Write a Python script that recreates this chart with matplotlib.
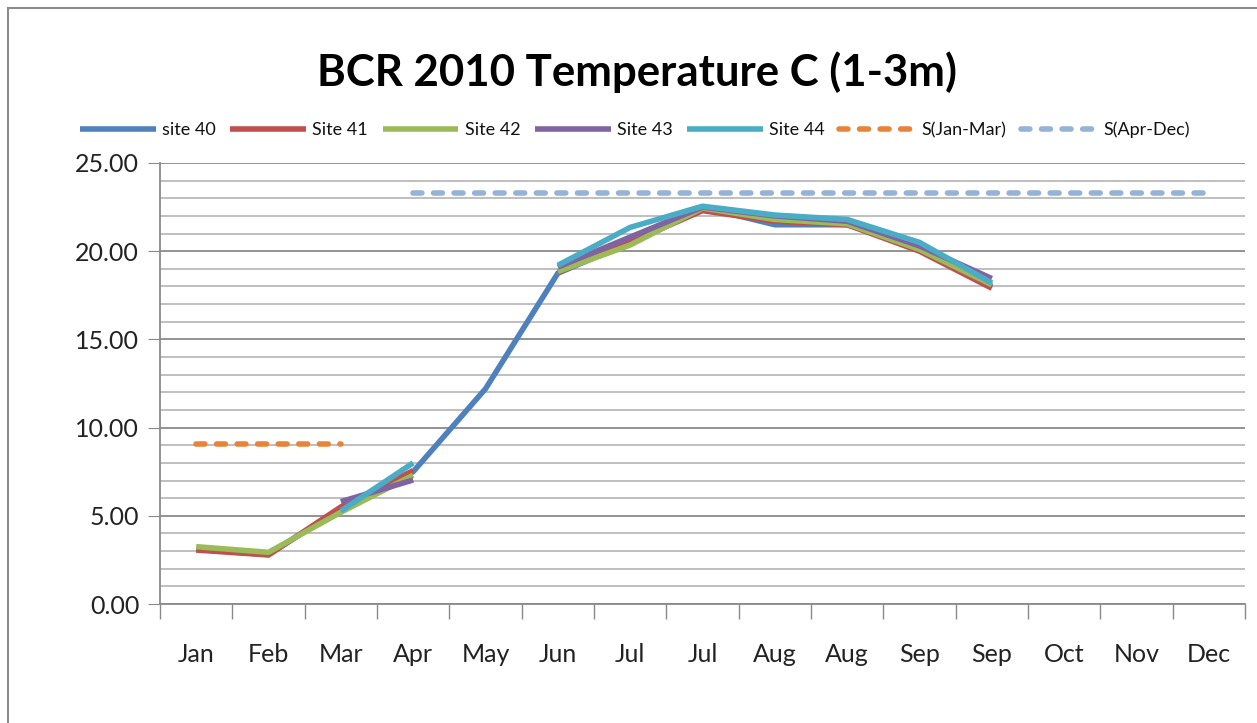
import matplotlib.pyplot as plt
import numpy as np
from matplotlib.patches import Rectangle

plt.rcParams["font.family"] = ["Lato", "DejaVu Sans"]

months = ["Jan", "Feb", "Mar", "Apr", "May", "Jun", "Jul", "Jul",
          "Aug", "Aug", "Sep", "Sep", "Oct", "Nov", "Dec"]
nan = np.nan

site40 = [3.1, 2.8, 5.4, 7.5, 12.2, 18.75, 20.5, 22.5, 21.5, 21.5, 20.2, 18.0, nan, nan, nan]
site41 = [3.06, 2.78, 5.5, 7.56, nan, 18.8, 20.5, 22.3, 21.7, 21.5, 20.0, 17.9, nan, nan, nan]
site42 = [3.25, 2.93, 5.2, 7.3, nan, 18.85, 20.35, 22.45, 21.8, 21.55, 20.1, 18.1, nan, nan, nan]
site43 = [nan, nan, 5.8, 7.03, nan, 19.1, 20.8, 22.5, 22.0, 21.7, 20.3, 18.45, nan, nan, nan]
site44 = [nan, nan, 5.27, 8.0, nan, 19.2, 21.35, 22.55, 22.05, 21.8, 20.5, 18.2, nan, nan, nan]
s_jan_mar = [9.05, 9.05, 9.05, nan, nan, nan, nan, nan, nan, nan, nan, nan, nan, nan, nan]
s_apr_dec = [nan, nan, nan, 23.3, 23.3, 23.3, 23.3, 23.3, 23.3, 23.3, 23.3, 23.3, 23.3, 23.3, 23.3]

series = [
    ("site 40", site40, "#4F81BD"),
    ("Site 41", site41, "#C0504D"),
    ("Site 42", site42, "#9BBB59"),
    ("Site 43", site43, "#8064A2"),
    ("Site 44", site44, "#4BACC6"),
]

fig = plt.figure(figsize=(12.57, 7.23), dpi=100)
# chart frame, only top and left edges fall inside the image
fig.patches.append(Rectangle((8 / 1257, -0.1), 1.2, 1.1 - 8 / 723,
                             transform=fig.transFigure, fill=False,
                             edgecolor="#8c8c8c", linewidth=1.5))

ax = fig.add_axes([160 / 1257, 1 - 604 / 723, 1085 / 1257, 441 / 723])
x = np.arange(len(months))

for name, vals, col in series:
    ax.plot(x, vals, color=col, linewidth=4.0, label=name,
            solid_capstyle="butt", solid_joinstyle="round", zorder=3)
dash = (0, (1.6, 2.1))
ax.plot(x, s_jan_mar, color="#E8843A", linewidth=4.0, linestyle=dash,
        dash_capstyle="round", label="S(Jan-Mar)", zorder=3)
ax.plot(x, s_apr_dec, color="#95B3D7", linewidth=4.0, linestyle=dash,
        dash_capstyle="round", label="S(Apr-Dec)", zorder=3)

ax.set_xlim(-0.5, len(months) - 0.5)
ax.set_ylim(0, 25)
ax.set_yticks(np.arange(0, 26, 5))
ax.set_yticklabels([f"{v:.2f}" for v in np.arange(0, 26, 5)])
ax.set_yticks(np.arange(0, 26, 1), minor=True)
ax.set_xticks(x)
ax.set_xticklabels(months)
ax.set_xticks(np.arange(-0.5, len(months), 1), minor=True)

ax.grid(axis="y", which="minor", color="#b4b4b4", linewidth=1.2)
ax.grid(axis="y", which="major", color="#8a8a8a", linewidth=1.3)
ax.set_axisbelow(True)

for s in ["top", "right"]:
    ax.spines[s].set_visible(False)
for s in ["left", "bottom"]:
    ax.spines[s].set_color("#8a8a8a")
    ax.spines[s].set_linewidth(1.3)

ax.tick_params(axis="y", which="major", length=9, color="#8a8a8a",
               labelsize=18, labelcolor="#222222", pad=6)
ax.tick_params(axis="y", which="minor", length=0)
ax.tick_params(axis="x", which="major", length=0, labelsize=18,
               labelcolor="#222222", pad=28)
ax.tick_params(axis="x", which="minor", length=11, color="#8a8a8a", width=1)

fig.text(0.507, 1 - 72 / 723, "BCR 2010 Temperature C (1-3m)", ha="center",
         va="center", fontsize=31.5, fontweight="bold")

fig.legend(loc="center", bbox_to_anchor=(0.505, 1 - 130 / 723), ncol=7,
           frameon=False, fontsize=13, handlelength=4.2, columnspacing=0.8,
           handletextpad=0.35, labelcolor="#111111")

fig.savefig("out.png", dpi=100)
